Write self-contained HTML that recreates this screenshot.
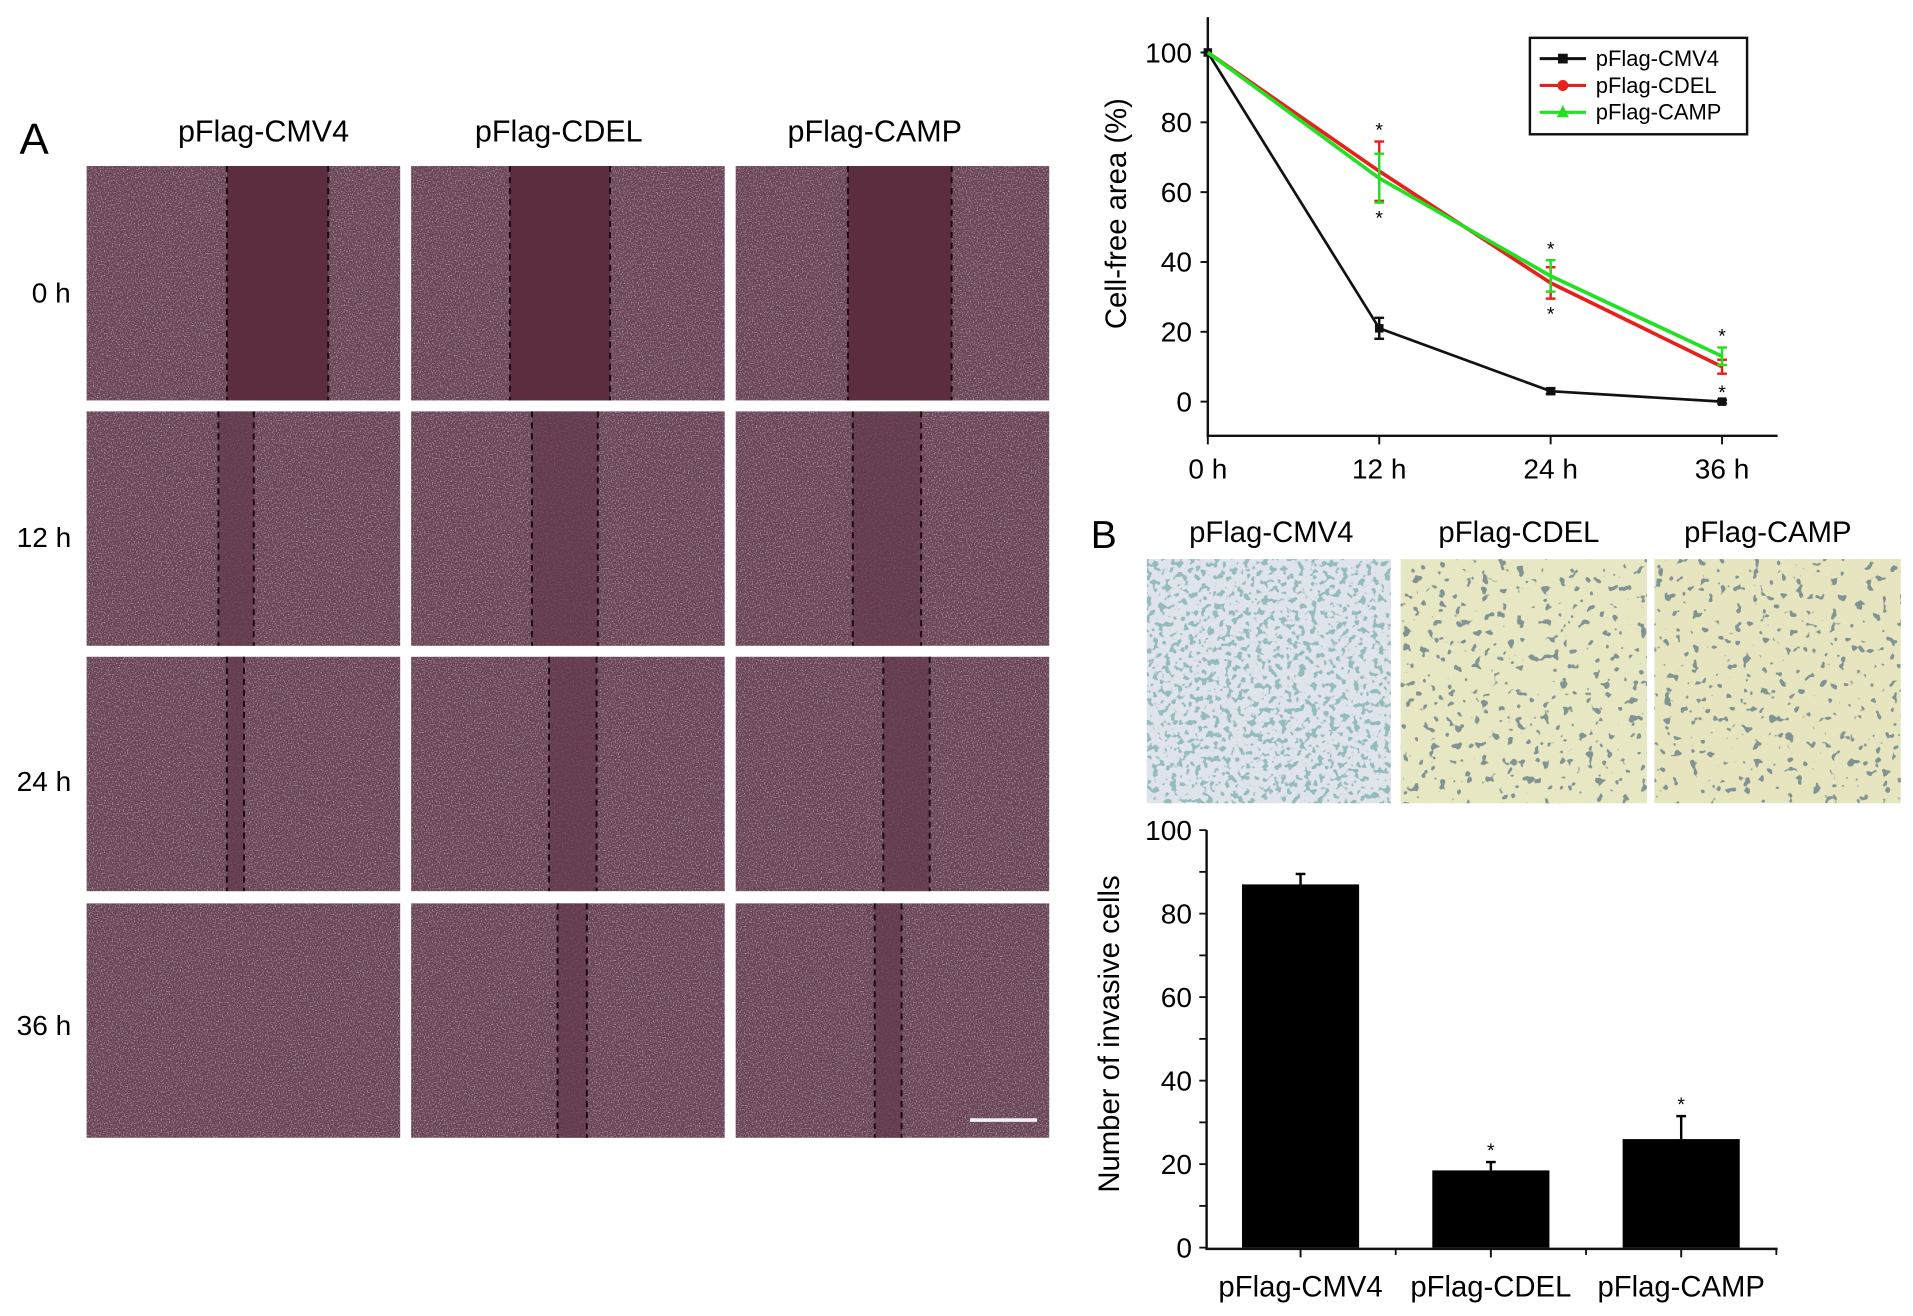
<!DOCTYPE html>
<html><head><meta charset="utf-8"><title>Migration and invasion assays: pFlag-CMV4, pFlag-CDEL, pFlag-CAMP</title>
<style>html,body{margin:0;padding:0;background:#fff}svg{display:block}text{font-family:"Liberation Sans",Arial,sans-serif}</style>
</head><body>
<svg id="fig" width="1913" height="1316" viewBox="0 0 1568 1078" preserveAspectRatio="none" xmlns="http://www.w3.org/2000/svg">
<defs>
<filter id="grain" x="0" y="0" width="100%" height="100%">
<feTurbulence type="fractalNoise" baseFrequency="0.9" numOctaves="2" seed="3" result="n"/>
<feColorMatrix in="n" type="matrix" values="0 0 0 0 0.85  0 0 0 0 0.72  0 0 0 0 0.8  0 0 0 1.4 -0.74" result="s"/>
<feComposite in="s" in2="SourceGraphic" operator="in" result="m"/>
<feMerge><feMergeNode in="SourceGraphic"/><feMergeNode in="m"/></feMerge>
</filter>
<filter id="dots" x="0" y="0" width="100%" height="100%">
<feTurbulence type="fractalNoise" baseFrequency="0.14" numOctaves="2" seed="7" result="n"/>
<feColorMatrix in="n" type="matrix" values="0 0 0 0 0.22  0 0 0 0 0.3  0 0 0 0 0.3  0 0 0 -22 7.8" result="s"/>
<feComposite in="s" in2="SourceGraphic" operator="in" result="m"/>
<feMerge><feMergeNode in="SourceGraphic"/><feMergeNode in="m"/></feMerge>
</filter>
<filter id="cells" x="0" y="0" width="100%" height="100%">
<feTurbulence type="fractalNoise" baseFrequency="0.2" numOctaves="2" seed="5" result="n"/>
<feColorMatrix in="n" type="matrix" values="0 0 0 0 0.3  0 0 0 0 0.5  0 0 0 0 0.5  0 0 0 -14 6.3" result="s"/>
<feComposite in="s" in2="SourceGraphic" operator="in" result="m"/>
<feMerge><feMergeNode in="SourceGraphic"/><feMergeNode in="m"/></feMerge>
</filter>
</defs>

<text x="16" y="126" font-size="36">A</text>
<g font-size="25" text-anchor="middle">
<text x="216" y="116">pFlag-CMV4</text><text x="458" y="116">pFlag-CDEL</text><text x="717" y="116">pFlag-CAMP</text>
</g>
<g font-size="23" text-anchor="middle">
<text x="42" y="248">0 h</text><text x="36" y="448">12 h</text><text x="36" y="648">24 h</text><text x="36" y="848">36 h</text>
</g>
<g id="scratch"></g>
<rect x="795" y="916" width="55" height="3" fill="#f4f0f2"/>

<text x="894" y="449" font-size="32">B</text>
<g font-size="24" text-anchor="middle">
<text x="1042" y="444">pFlag-CMV4</text><text x="1245" y="444">pFlag-CDEL</text><text x="1449" y="444">pFlag-CAMP</text>
</g>
<rect x="940" y="458" width="200" height="200" fill="#dfe3ea" filter="url(#cells)"/>
<rect x="1148" y="458" width="202" height="200" fill="#e8e7c3" filter="url(#dots)"/>
<rect x="1356" y="458" width="202" height="200" fill="#e6e5c0" filter="url(#dots)"/>

<g id="line"></g>
<g id="bar"></g>
</svg>
<script>
const NS='http://www.w3.org/2000/svg';
function mk(p,t,a,txt){const e=document.createElementNS(NS,t);for(const k in a)e.setAttribute(k,a[k]);if(txt!==undefined)e.textContent=txt;p.appendChild(e);return e;}

// scratch-assay gaps (display coords of dashed edges per panel)
const scratchGaps=[[[186,269],[418,500],[695,780]],[[179,208],[436,490],[699,755]],[[186,200],[450,489],[724,762]],[null,[457,481],[717,739]]];
const sc=document.getElementById('scratch');
const colX=[71,337,603],rowY=[136,337,538,740];
rowY.forEach((y,r)=>colX.forEach((x,c)=>{
  const g=mk(sc,'g',{});
  
  
  mk(g,'rect',{x:x,y:y,width:257,height:192,fill:'#6b4459',filter:'url(#grain)'});
  const gp=scratchGaps[r][c];
  if(gp){
    mk(g,'rect',{x:gp[0],y:y,width:gp[1]-gp[0],height:192,fill:r==0?'#5c2c40':'#63374b',opacity:r==0?1:0.7});
    gp.forEach(v=>mk(g,'line',{x1:v,y1:y,x2:v,y2:y+192,stroke:'#1a0a12','stroke-width':1.6,'stroke-dasharray':'5,4'}));
  }
}));

// ---- line chart data ----
const lineCats=['0 h','12 h','24 h','36 h'];
const lineNames=['pFlag-CMV4','pFlag-CDEL','pFlag-CAMP'];
const cmv4Vals=[100,21,3,0];
const cdelVals=[100,66,34,10];
const campVals=[100,64,36,13];
const cmv4Err=[0,3,0.8,0.5];
const cdelErr=[0,8.5,4.5,2];
const campErr=[0,7,4.5,2.5];
const lineYTicks=[0,20,40,60,80,100];

const L=document.getElementById('line');
const lx=i=>990+i*140.5, ly=v=>329-v*2.86;
mk(L,'line',{x1:990,y1:14,x2:990,y2:357,stroke:'#111','stroke-width':2});
mk(L,'line',{x1:989,y1:357,x2:1457,y2:357,stroke:'#111','stroke-width':2});
lineYTicks.forEach(t=>{
  mk(L,'line',{x1:984,y1:ly(t),x2:990,y2:ly(t),stroke:'#111','stroke-width':1.6});
  const e=mk(L,'text',{x:977,y:ly(t)+8,'font-size':23,'text-anchor':'end'},t);
  
  
});
lineCats.forEach((c,i)=>{
  mk(L,'line',{x1:lx(i),y1:357,x2:lx(i),y2:364,stroke:'#111','stroke-width':1.6});
  const e=mk(L,'text',{x:lx(i),y:392,'font-size':23,'text-anchor':'middle'},c);
  
  
});
const yt=mk(L,'text',{x:0,y:0,'font-size':24,'text-anchor':'middle',transform:'translate(923,175) rotate(-90)'},'Cell-free area (%)');


const series=[[cmv4Vals,cmv4Err,'#111'],[cdelVals,cdelErr,'#e8201c'],[campVals,campErr,'#22e022']];
series.forEach((s,k)=>{
  const g=mk(L,'g',{});
  
  
  mk(g,'polyline',{points:s[0].map((v,i)=>lx(i)+','+ly(v)).join(' '),fill:'none',stroke:s[2],'stroke-width':k?3:2.2});
  s[0].forEach((v,i)=>{
    const e=s[1][i];
    if(e>0){mk(g,'line',{x1:lx(i),y1:ly(v-e),x2:lx(i),y2:ly(v+e),stroke:s[2],'stroke-width':2});
      [v-e,v+e].forEach(w=>mk(g,'line',{x1:lx(i)-4,y1:ly(w),x2:lx(i)+4,y2:ly(w),stroke:s[2],'stroke-width':2}));}
    if(k==0)mk(g,'rect',{x:lx(i)-3.5,y:ly(v)-3.5,width:7,height:7,fill:'#111'});
  });
});
// significance stars
[1,2,3].forEach(i=>{
  const hi=Math.max(cdelVals[i]+cdelErr[i],campVals[i]+campErr[i]);
  const lo=Math.min(cdelVals[i]-cdelErr[i],campVals[i]-campErr[i]);
  mk(L,'text',{x:lx(i),y:ly(hi)-4,'font-size':16,'text-anchor':'middle'},'*');
  mk(L,'text',{x:lx(i),y:ly(i==3?cmv4Vals[i]:lo)+(i==3?-2:18),'font-size':16,'text-anchor':'middle'},'*');
});
const lg=mk(L,'g',{});


mk(lg,'rect',{x:1254,y:31,width:178,height:79,fill:'#fff',stroke:'#111','stroke-width':2});
['#111','#e8201c','#22e022'].forEach((c,k)=>{
  const y=48+k*22;
  mk(lg,'line',{x1:1262,y1:y,x2:1300,y2:y,stroke:c,'stroke-width':2.5});
  if(k==0)mk(lg,'rect',{x:1277,y:y-4,width:8,height:8,fill:c});
  if(k==1)mk(lg,'circle',{cx:1281,cy:y,r:4.5,fill:c});
  if(k==2)mk(lg,'polygon',{points:(1281)+','+(y-6)+' '+(1276)+','+(y+4)+' '+(1286)+','+(y+4),fill:c});
  const t=mk(lg,'text',{x:1308,y:y+6,'font-size':18},lineNames[k]);
  
  
});

// ---- bar chart data ----
const barCats=['pFlag-CMV4','pFlag-CDEL','pFlag-CAMP'];
const barVals=[87,18.5,26];
const barErr=[2.5,2,5.5];
const barSig=[false,true,true];
const barYTicks=[0,20,40,60,80,100];

const B=document.getElementById('bar');
const by=v=>1022-v*3.42, bx=i=>1066+i*156;
mk(B,'line',{x1:989,y1:680,x2:989,y2:1023,stroke:'#111','stroke-width':2});
mk(B,'line',{x1:988,y1:1023,x2:1457,y2:1023,stroke:'#111','stroke-width':2});
for(let t=0;t<=100;t+=10){mk(B,'line',{x1:983,y1:by(t),x2:989,y2:by(t),stroke:'#111','stroke-width':1.5});}
barYTicks.forEach(t=>{
  const e=mk(B,'text',{x:977,y:by(t)+8,'font-size':23,'text-anchor':'end'},t);
  
  
});
for(let i=0;i<3;i++){mk(B,'line',{x1:bx(i),y1:1023,x2:bx(i),y2:1030,stroke:'#111','stroke-width':1.6});mk(B,'line',{x1:bx(i)+78,y1:1023,x2:bx(i)+78,y2:1028,stroke:'#111','stroke-width':1.5});}
const bt=mk(B,'text',{x:0,y:0,'font-size':24,'text-anchor':'middle',transform:'translate(917,847) rotate(-90)'},'Number of invasive cells');


barVals.forEach((v,i)=>{
  const r=mk(B,'rect',{x:bx(i)-48,y:by(v),width:96,height:by(0)-by(v),fill:'#000'});
  
  
  mk(B,'line',{x1:bx(i),y1:by(v),x2:bx(i),y2:by(v+barErr[i]),stroke:'#000','stroke-width':2});
  mk(B,'line',{x1:bx(i)-4,y1:by(v+barErr[i]),x2:bx(i)+4,y2:by(v+barErr[i]),stroke:'#000','stroke-width':2});
  if(barSig[i])mk(B,'text',{x:bx(i),y:by(v+barErr[i])-4,'font-size':16,'text-anchor':'middle'},'*');
  const t=mk(B,'text',{x:bx(i),y:1062,'font-size':24,'text-anchor':'middle'},barCats[i]);
  
  
});
</script>
</body></html>
